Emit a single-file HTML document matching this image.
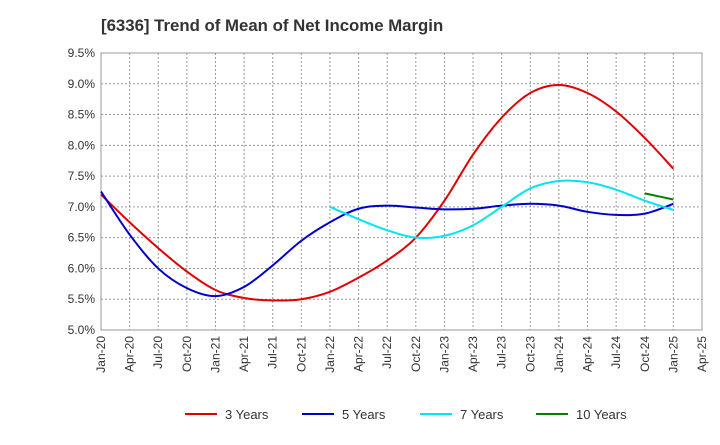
<!DOCTYPE html>
<html><head><meta charset="utf-8"><style>
body{margin:0;background:#fff;font-family:"Liberation Sans",Arial,sans-serif;}
</style></head><body>
<svg id="chart" width="720" height="440" xmlns="http://www.w3.org/2000/svg">
<text x="101" y="31" font-size="16.8" font-weight="bold" fill="#333">[6336]  Trend of Mean of Net Income Margin</text>
<g id="grid"></g><g id="axes"></g><g id="series"></g><g id="legend"></g>
</svg>
<script>
const categories=["Jan-20","Apr-20","Jul-20","Oct-20","Jan-21","Apr-21","Jul-21","Oct-21","Jan-22","Apr-22","Jul-22","Oct-22","Jan-23","Apr-23","Jul-23","Oct-23","Jan-24","Apr-24","Jul-24","Oct-24","Jan-25","Apr-25"];
const yTicks=[5.0,5.5,6.0,6.5,7.0,7.5,8.0,8.5,9.0,9.5];
const seriesNames=["3 Years","5 Years","7 Years","10 Years"];
const seriesColors=["#e00000","#0000cc","#00e5ee","#008000"];
const s3=[7.2,6.75,6.33,5.95,5.65,5.52,5.48,5.5,5.62,5.85,6.13,6.5,7.1,7.85,8.45,8.85,8.98,8.85,8.55,8.12,7.62];
const s5=[7.25,6.55,6.0,5.68,5.55,5.7,6.05,6.45,6.75,6.97,7.02,6.99,6.96,6.97,7.02,7.05,7.02,6.92,6.87,6.89,7.05];
const s7=[null,null,null,null,null,null,null,null,7.0,6.8,6.62,6.5,6.53,6.7,7.0,7.3,7.42,7.4,7.28,7.1,6.95];
const s10=[null,null,null,null,null,null,null,null,null,null,null,null,null,null,null,null,null,null,null,7.22,7.12];
const allSeries=[s3,s5,s7,s10];
const NS="http://www.w3.org/2000/svg";
const L=101,R=702,T=53,B=330,yMin=5,yMax=9.5;
const xs=i=>L+i*(R-L)/(categories.length-1);
const ys=v=>B-(v-yMin)/(yMax-yMin)*(B-T);
function mk(t,a,p){const e=document.createElementNS(NS,t);for(const k in a)e.setAttribute(k,a[k]);p.appendChild(e);return e;}
const grid=document.getElementById('grid'),axes=document.getElementById('axes'),ser=document.getElementById('series'),leg=document.getElementById('legend');
mk('rect',{x:L,y:T,width:R-L,height:B-T,fill:'#fff',stroke:'#999'},grid);
yTicks.forEach(v=>{
 const l=mk('line',{x1:L,x2:R,y1:ys(v),y2:ys(v),stroke:'#999','stroke-dasharray':'2,2'},grid);
 
 
 const t=mk('text',{x:L-6,y:ys(v)+4,'text-anchor':'end','font-size':12,fill:'#333'},axes);
 t.textContent=v.toFixed(1)+'%';
 
 
});
categories.forEach((c,i)=>{
 const l=mk('line',{x1:xs(i),x2:xs(i),y1:T,y2:B,stroke:'#999','stroke-dasharray':'2,2'},grid);
 
 
 const t=mk('text',{x:0,y:0,'text-anchor':'end','font-size':12,fill:'#333',transform:`translate(${xs(i)+4},${B+6}) rotate(-90)`},axes);
 t.textContent=c;
 
 
});
function path(pts){let d=`M${pts[0][0]},${pts[0][1]}`;for(let i=0;i<pts.length-1;i++){const p0=pts[i-1]||pts[i],p1=pts[i],p2=pts[i+1],p3=pts[i+2]||p2;
 d+=` C${p1[0]+(p2[0]-p0[0])/6},${p1[1]+(p2[1]-p0[1])/6} ${p2[0]-(p3[0]-p1[0])/6},${p2[1]-(p3[1]-p1[1])/6} ${p2[0]},${p2[1]}`;}return d;}
allSeries.forEach((s,k)=>{
 const pts=[];s.forEach((v,i)=>{if(v!=null)pts.push([xs(i),ys(v)]);});
 const p=mk('path',{d:path(pts),fill:'none',stroke:seriesColors[k],'stroke-width':2},ser);
 
 
});
const lx=[185,302,420,536];
seriesNames.forEach((n,k)=>{
 const g=mk('g',{},leg);
 
 
 mk('line',{x1:lx[k],x2:lx[k]+32,y1:414,y2:414,stroke:seriesColors[k],'stroke-width':2},g);
 const t=mk('text',{x:lx[k]+40,y:419,'font-size':13,fill:'#333'},g);t.textContent=n;
});
</script>
</body></html>
